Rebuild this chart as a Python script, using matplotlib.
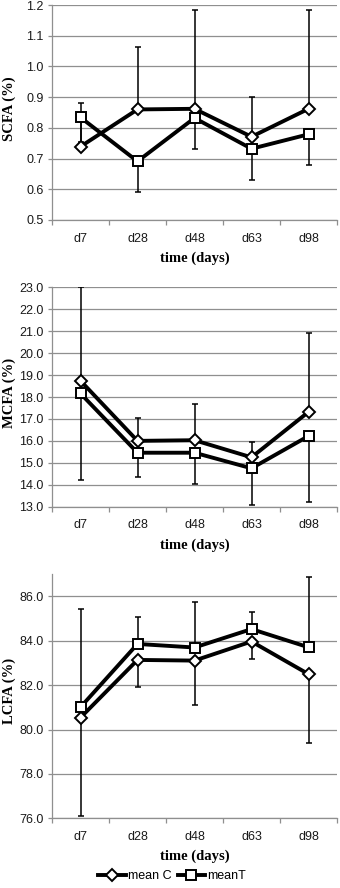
import numpy as np
import matplotlib
matplotlib.use("Agg")
import matplotlib.pyplot as plt
from matplotlib.ticker import FixedLocator, NullFormatter, FormatStrFormatter

# time points
days = ["d7", "d28", "d48", "d63", "d98"]

# SCFA (%)
scfa_c = [0.739, 0.860, 0.862, 0.771, 0.862]
scfa_t = [0.834, 0.691, 0.832, 0.732, 0.779]
scfa_c_err = [0.143, 0.204, 0.322, 0.131, 0.322]   # plus bars on mean C
scfa_t_err = [0.080, 0.101, 0.101, 0.102, 0.100]   # minus bars on meanT

# MCFA (%)
mcfa_c = [18.74, 16.00, 16.03, 15.25, 17.32]
mcfa_t = [18.16, 15.46, 15.46, 14.75, 16.22]
mcfa_c_err = [4.29, 1.05, 1.67, 0.71, 3.60]
mcfa_t_err = [3.95, 1.09, 1.44, 1.67, 2.99]

# LCFA (%)
lcfa_c = [80.54, 83.14, 83.11, 83.97, 82.50]
lcfa_t = [81.01, 83.86, 83.70, 84.53, 83.71]
lcfa_c_err = [4.44, 1.23, 2.00, 0.77, 3.12]   # minus bars on mean C
lcfa_t_err = [4.42, 1.21, 2.03, 0.79, 3.15]   # plus bars on meanT

W, H = 340, 888
fig = plt.figure(figsize=(W / 100, H / 100), dpi=100)

tick_font = "Liberation Sans"
lab_font = "Liberation Serif"
grid_col = "#8f8f8f"


def px_axes(left, top, right, bottom):
    return fig.add_axes([left / W, 1 - bottom / H, (right - left) / W, (bottom - top) / H])


def draw_panel(ax, c, t, c_err, t_err, c_up, ylim, yticks, ylabel):
    x = np.arange(len(days))
    zero = [0] * len(days)
    eb = dict(fmt="none", ecolor="black", elinewidth=1.1, capsize=2.2, capthick=1.1, zorder=2)
    # one-sided error bars, like the original Excel chart
    if c_up:
        ax.errorbar(x, c, yerr=[zero, c_err], **eb)
        ax.errorbar(x, t, yerr=[t_err, zero], **eb)
    else:
        ax.errorbar(x, c, yerr=[c_err, zero], **eb)
        ax.errorbar(x, t, yerr=[zero, t_err], **eb)
    ax.plot(x, c, color="black", lw=2.8, marker="D", ms=6.5, mfc="white", mec="black", mew=1.4, label="mean C", zorder=3)
    ax.plot(x, t, color="black", lw=2.8, marker="s", ms=7, mfc="white", mec="black", mew=1.4, label="meanT", zorder=3)

    ax.set_xlim(-0.5, len(days) - 0.5)
    ax.set_ylim(*ylim)
    ax.set_yticks(yticks)
    ax.yaxis.set_major_formatter(FormatStrFormatter("%.1f"))
    ax.grid(True, axis="y", color=grid_col, lw=0.9)
    ax.set_axisbelow(True)

    # ticks at category boundaries, labels at centers
    ax.xaxis.set_major_locator(FixedLocator(np.arange(len(days) + 1) - 0.5))
    ax.xaxis.set_major_formatter(NullFormatter())
    ax.xaxis.set_minor_locator(FixedLocator(x))
    ax.set_xticklabels(days, minor=True)
    ax.tick_params(axis="x", which="major", length=3.5, color=grid_col, width=0.9)
    ax.tick_params(axis="x", which="minor", length=0, pad=9)
    ax.tick_params(axis="y", length=3, color=grid_col, width=0.9, pad=3)
    for lab in ax.get_xticklabels(minor=True) + ax.get_yticklabels():
        lab.set_fontfamily(tick_font)
        lab.set_fontsize(9)
        lab.set_color("#1a1a1a")

    for s in ["top", "right"]:
        ax.spines[s].set_visible(False)
    for s in ["left", "bottom"]:
        ax.spines[s].set_color(grid_col)
        ax.spines[s].set_linewidth(0.9)

    ax.set_xlabel("time (days)", fontfamily=lab_font, fontweight="bold", fontsize=10.5, labelpad=5)
    ax.set_ylabel(ylabel, fontfamily=lab_font, fontweight="bold", fontsize=10.5, va="center")
    ax.yaxis.set_label_coords(-0.15, 0.52)


ax1 = px_axes(52, 5, 337, 220)
draw_panel(ax1, scfa_c, scfa_t, scfa_c_err, scfa_t_err, True, (0.5, 1.2),
           np.arange(0.5, 1.21, 0.1), "SCFA (%)")

ax2 = px_axes(52, 287.3, 337, 506.7)
draw_panel(ax2, mcfa_c, mcfa_t, mcfa_c_err, mcfa_t_err, True, (13.0, 23.0),
           np.arange(13.0, 23.1, 1.0), "MCFA (%)")

ax3 = px_axes(52, 574.3, 337, 818.3)
draw_panel(ax3, lcfa_c, lcfa_t, lcfa_c_err, lcfa_t_err, False, (76.0, 87.0),
           np.arange(76.0, 86.1, 2.0), "LCFA (%)")

handles, labels = ax3.get_legend_handles_labels()
fig.legend(handles, labels, loc="center", bbox_to_anchor=(172 / W, 1 - 876 / H), ncol=2,
           frameon=False, handlelength=2.2, handletextpad=0.15, columnspacing=0.5,
           prop={"family": tick_font, "size": 9})

fig.savefig("out.png", dpi=100)
